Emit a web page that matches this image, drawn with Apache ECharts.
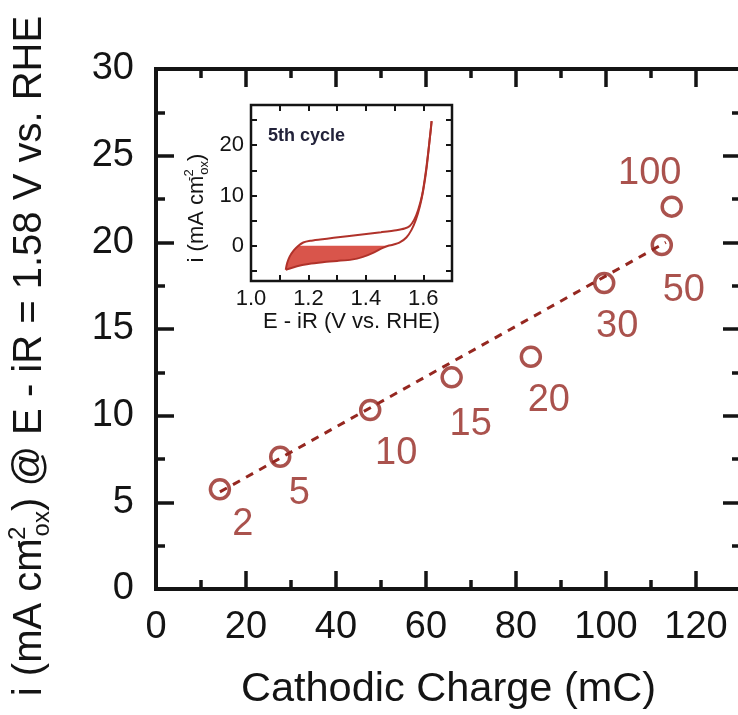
<!DOCTYPE html>
<html><head><meta charset="utf-8">
<script src="https://cdn.jsdelivr.net/npm/echarts@6/dist/echarts.min.js"></script>
<style>html,body{margin:0;padding:0;background:#fff}#c{width:738px;height:715px}</style>
</head><body><div id="c"></div>
<script>
// ---- main plot data ----
const charge = [14.2, 27.6, 47.6, 65.7, 83.3, 99.6, 112.4, 114.6];
const current = [5.75, 7.63, 10.33, 12.21, 13.4, 17.65, 19.85, 22.06];
const cycleLabels = ['2', '5', '10', '15', '20', '30', '50', '100'];
const fitX = [14.2, 113.3];
const fitY = [5.6, 20.0];
const xTickLabels = [0, 20, 40, 60, 80, 100, 120];
const yTickLabels = [0, 5, 10, 15, 20, 25, 30];
// ---- inset data (5th cycle CV) ----
const anodicE = [1.121, 1.126, 1.135, 1.149, 1.165, 1.182, 1.206, 1.241, 1.288, 1.335, 1.394, 1.453, 1.506, 1.535, 1.553, 1.568, 1.582, 1.596, 1.608, 1.618, 1.626, 1.629];
const anodicI = [-4.75, -3.43, -2.11, -0.92, 0.0, 0.66, 0.99, 1.25, 1.58, 1.91, 2.31, 2.71, 3.10, 3.43, 3.96, 5.15, 7.13, 10.1, 14.4, 19.0, 23.0, 24.8];
const cathodicE = [1.629, 1.622, 1.612, 1.600, 1.588, 1.574, 1.559, 1.541, 1.518, 1.494, 1.478, 1.455, 1.425, 1.390, 1.350, 1.300, 1.250, 1.200, 1.160, 1.121];
const cathodicI = [24.8, 21.0, 15.7, 11.1, 7.8, 5.15, 3.17, 1.65, 0.66, 0.2, 0.0, -0.5, -1.4, -2.2, -2.75, -3.0, -3.25, -3.6, -4.05, -4.75];
const insetXTickLabels = [1.0, 1.2, 1.4, 1.6];
const insetXTicks = [1.1, 1.2, 1.3, 1.4, 1.5, 1.6];
const insetYTickLabels = [0, 10, 20];
const insetYTicks = [-5, 0, 5, 10, 15, 20, 25];

const FONT = "'Liberation Sans', Arial, Helvetica, sans-serif";
const RED = '#952720';
const LINE = '#b0322a';
const FILL = '#d9554b';
const INK = '#141414';

const labelOffsets = [[23, 35], [19, 37], [26, 44], [19, 47], [18, 44], [13, 43], [22, 46], [-22, -33]];

const noLine = { show: false, onZero: false };
const mainTick = { show: true, inside: true, length: 18, lineStyle: { color: INK, width: 3.5 } };
const mainMinor = { show: true, splitNumber: 2, length: 9, lineStyle: { color: INK, width: 3.5 } };
const insetTickX = { show: true, inside: true, length: 6, customValues: insetXTicks, lineStyle: { color: INK, width: 2 } };
const insetTickY = { show: true, inside: true, length: 6, customValues: insetYTicks, lineStyle: { color: INK, width: 2 } };

const chart = echarts.init(document.getElementById('c'), null, { renderer: 'canvas' });
chart.setOption({
  animation: false,
  backgroundColor: '#fff',
  grid: [
    { left: 156, top: 69, width: 585, height: 520, show: true, borderColor: INK, borderWidth: 4, backgroundColor: 'transparent', containLabel: false, outerBoundsMode: 'none' },
    { left: 251, top: 105, width: 201, height: 176, show: true, borderColor: INK, borderWidth: 2.5, backgroundColor: '#fff', containLabel: false, outerBoundsMode: 'none' }
  ],
  xAxis: [
    { gridIndex: 0, type: 'value', position: 'bottom', min: 0, max: 130, interval: 20,
      axisLine: noLine, splitLine: { show: false },
      axisTick: mainTick, minorTick: mainMinor,
      axisLabel: { customValues: xTickLabels, fontSize: 38, fontFamily: FONT, color: INK, margin: 20 },
      name: 'Cathodic Charge (mC)', nameLocation: 'middle', nameGap: 80, nameMoveOverlap: false,
      nameTextStyle: { fontSize: 41.5, fontFamily: FONT, color: INK } },
    { gridIndex: 0, type: 'value', position: 'top', min: 0, max: 130, interval: 20,
      axisLine: noLine, splitLine: { show: false },
      axisTick: mainTick, minorTick: mainMinor, axisLabel: { show: false } },
    { gridIndex: 1, type: 'value', position: 'bottom', min: 1.0, max: 1.7,
      axisLine: noLine, splitLine: { show: false },
      axisTick: insetTickX,
      axisLabel: { customValues: insetXTickLabels, formatter: v => v.toFixed(1), fontSize: 22, fontFamily: FONT, color: INK, margin: 7 },
      name: 'E - iR (V vs. RHE)', nameLocation: 'middle', nameGap: 30, nameMoveOverlap: false,
      nameTextStyle: { fontSize: 22, fontFamily: FONT, color: INK } },
    { gridIndex: 1, type: 'value', position: 'top', min: 1.0, max: 1.7,
      axisLine: noLine, splitLine: { show: false },
      axisTick: insetTickX, axisLabel: { show: false } }
  ],
  yAxis: [
    { gridIndex: 0, type: 'value', position: 'left', min: 0, max: 30, interval: 5,
      axisLine: noLine, splitLine: { show: false },
      axisTick: mainTick, minorTick: mainMinor,
      axisLabel: { customValues: yTickLabels, fontSize: 38, fontFamily: FONT, color: INK, margin: 22 } },
    { gridIndex: 0, type: 'value', position: 'right', min: 0, max: 30, interval: 5,
      axisLine: noLine, splitLine: { show: false },
      axisTick: mainTick, minorTick: mainMinor, axisLabel: { show: false } },
    { gridIndex: 1, type: 'value', position: 'left', min: -7, max: 28,
      axisLine: noLine, splitLine: { show: false },
      axisTick: insetTickY,
      axisLabel: { customValues: insetYTickLabels, fontSize: 22, fontFamily: FONT, color: INK, margin: 7 } },
    { gridIndex: 1, type: 'value', position: 'right', min: -7, max: 28,
      axisLine: noLine, splitLine: { show: false },
      axisTick: insetTickY, axisLabel: { show: false } }
  ],
  series: [
    { type: 'line', xAxisIndex: 0, yAxisIndex: 0, data: fitX.map((x, i) => [x, fitY[i]]),
      showSymbol: false, silent: true, z: 2,
      lineStyle: { color: RED, width: 3, type: [8, 7] } },
    { type: 'scatter', xAxisIndex: 0, yAxisIndex: 0, symbol: 'circle', symbolSize: 19, z: 3,
      itemStyle: { color: 'rgba(0,0,0,0)', borderColor: RED, borderWidth: 3.5 },
      label: { show: true, position: 'inside', fontSize: 38, fontFamily: FONT, color: RED,
               formatter: p => cycleLabels[p.dataIndex] },
      data: charge.map((x, i) => ({ value: [x, current[i]], label: { offset: labelOffsets[i] } })) },
    { type: 'custom', xAxisIndex: 2, yAxisIndex: 2, z: 4, data: [[1.3, 0]],
      renderItem: (params, api) => {
        const pts = [];
        for (let i = 0; i < anodicE.length && anodicI[i] <= 0; i++) pts.push(api.coord([anodicE[i], anodicI[i]]));
        const k = cathodicI.findIndex(v => v <= 0);
        for (let i = k; i < cathodicE.length; i++) pts.push(api.coord([cathodicE[i], cathodicI[i]]));
        return { type: 'polygon', shape: { points: pts }, style: { fill: FILL } };
      } },
    { type: 'line', xAxisIndex: 2, yAxisIndex: 2, z: 5, data: anodicE.map((x, i) => [x, anodicI[i]]),
      showSymbol: false, smooth: 0.2, lineStyle: { color: LINE, width: 2 } },
    { type: 'line', xAxisIndex: 2, yAxisIndex: 2, z: 5, data: cathodicE.map((x, i) => [x, cathodicI[i]]),
      showSymbol: false, smooth: 0.2, lineStyle: { color: LINE, width: 2 } }
  ],
  graphic: [
    { type: 'text', x: 30, y: 356, rotation: Math.PI / 2, z: 10,
      style: { text: 'i (mA cm{sup|-2}{sub|ox}) @ E - iR = 1.58 V vs. RHE', fontSize: 40, lineHeight: 48,
               fontFamily: FONT, fill: INK, align: 'center', verticalAlign: 'middle',
               rich: { sup: { fontSize: 24, lineHeight: 24, verticalAlign: 'top', width: 2, fontFamily: FONT, fill: INK },
                       sub: { fontSize: 24, lineHeight: 24, verticalAlign: 'bottom', fontFamily: FONT, fill: INK } } } },
    { type: 'text', x: 197, y: 208, rotation: Math.PI / 2, z: 10,
      style: { text: 'i (mA cm{sup|-2}{sub|ox})', fontSize: 22, lineHeight: 28,
               fontFamily: FONT, fill: INK, align: 'center', verticalAlign: 'middle',
               rich: { sup: { fontSize: 13, lineHeight: 13, verticalAlign: 'top', width: 1, fontFamily: FONT, fill: INK },
                       sub: { fontSize: 13, lineHeight: 13, verticalAlign: 'bottom', fontFamily: FONT, fill: INK } } } },
    { type: 'text', x: 268, y: 136, z: 10,
      style: { text: '5th cycle', fontSize: 18, fontWeight: 'bold', fontFamily: FONT, fill: '#22223a',
               align: 'left', verticalAlign: 'middle' } }
  ]
});
</script></body></html>
